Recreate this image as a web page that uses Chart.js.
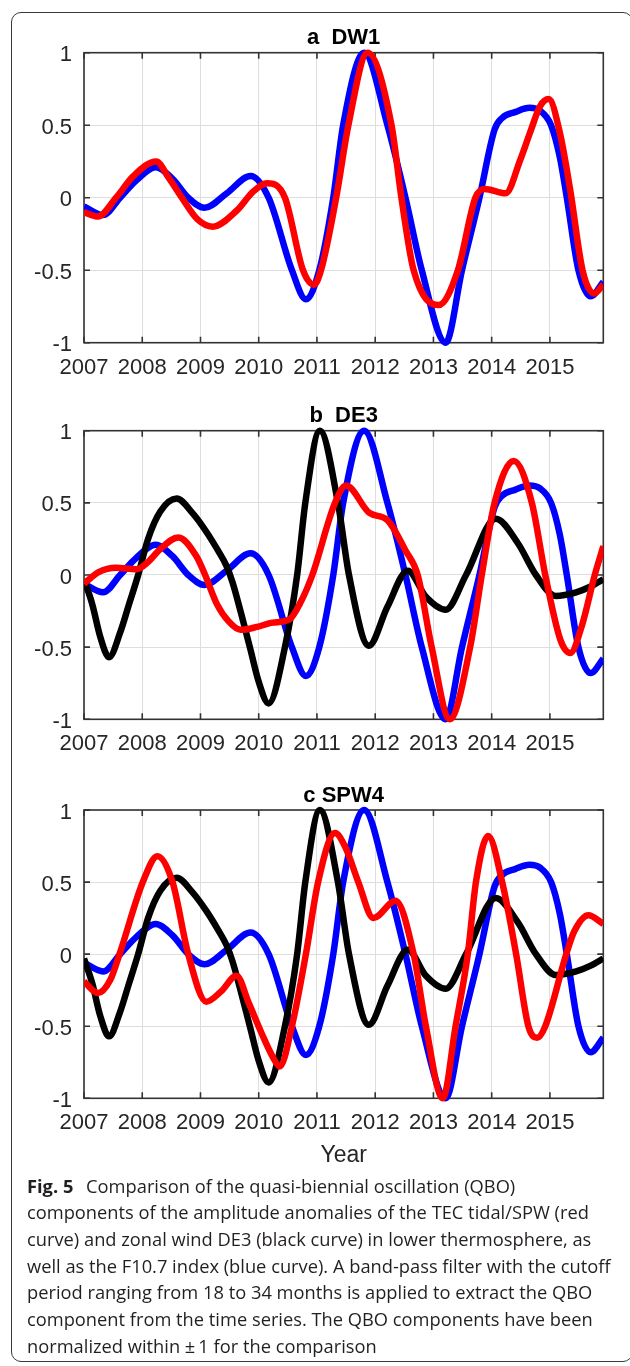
<!DOCTYPE html>
<html>
<head>
<meta charset="utf-8">
<title>QBO components of TEC tidal/SPW amplitudes, DE3 zonal wind and F10.7</title>
<script src="https://cdn.jsdelivr.net/npm/chart.js"></script>
<style>
  html, body { margin: 0; padding: 0; background: #ffffff; }
  body { width: 630px; height: 1366px; position: relative; overflow: hidden; }
  .frame {
    position: absolute; left: 11px; top: 12px; width: 622px; height: 1350px;
    border: 1.2px solid #3a3a3a; border-radius: 10px; box-sizing: border-box;
  }
  canvas { position: absolute; left: 0; }
  #caption {
    position: absolute; left: 27px; top: 1172.6px;
    font-family: "Open Sans", "Noto Sans", sans-serif; font-size: 18.3px;
    line-height: 26.65px; color: #231f20; white-space: nowrap;
  }
  #caption b { font-weight: 700; margin-right: 8px; }
</style>
</head>
<body>
<div class="frame"></div>
<canvas id="panelA" width="630" height="383" style="top:0px"></canvas>
<canvas id="panelB" width="630" height="381" style="top:378px"></canvas>
<canvas id="panelC" width="630" height="423" style="top:757px"></canvas>
<div id="caption"><b>Fig. 5</b> Comparison of the quasi-biennial oscillation (QBO)<br>components of the amplitude anomalies of the TEC tidal/SPW (red<br>curve) and zonal wind DE3 (black curve) in lower thermosphere, as<br>well as the F10.7 index (blue curve). A band-pass filter with the cutoff<br>period ranging from 18 to 34 months is applied to extract the QBO<br>component from the time series. The QBO components have been<br>normalized within ±&#8201;1 for the comparison</div>

<script>
// Axis ticks and labels
const yearTicks = [2007, 2008, 2009, 2010, 2011, 2012, 2013, 2014, 2015];
const yearLabels = ['2007', '2008', '2009', '2010', '2011', '2012', '2013', '2014', '2015'];
const valueTicks = [-1, -0.5, 0, 0.5, 1];
const valueLabels = ['-1', '-0.5', '0', '0.5', '1'];
const yearStart = 2007;
const yearEnd = 2015 + 11 / 12;   // monthly series, Jan 2007 - Dec 2015

// F10.7 index, QBO component (blue)
const f107Years = [2007.00, 2007.33, 2007.62, 2007.90, 2008.23, 2008.52, 2008.79, 2009.07, 2009.45, 2009.86,
  2010.17, 2010.57, 2010.81, 2011.04, 2011.28, 2011.45, 2011.81, 2012.21, 2012.52, 2012.80,
  2013.21, 2013.49, 2013.79, 2014.05, 2014.18, 2014.40, 2014.65, 2014.83, 2015.02, 2015.17, 2015.29,
  2015.49, 2015.70, 2015.917];
const f107Values = [-0.06, -0.12, 0.00, 0.12, 0.21, 0.13, 0.00, -0.07, 0.03, 0.15,
  0.00, -0.50, -0.70, -0.50, 0.00, 0.50, 1.00, 0.50, 0.00, -0.50,
  -1.00, -0.50, 0.00, 0.47, 0.55, 0.59, 0.62, 0.60, 0.50, 0.28, 0.00,
  -0.50, -0.68, -0.58];

// Zonal wind DE3 in the lower thermosphere, QBO component (black)
const windDE3Years = [2007.00, 2007.14, 2007.28, 2007.43, 2007.62, 2007.76, 2007.93, 2008.10, 2008.31, 2008.59,
  2008.86, 2009.10, 2009.30, 2009.45, 2009.55, 2009.70, 2009.86, 2010.00, 2010.17,
  2010.45, 2010.66, 2010.80, 2011.05, 2011.36, 2011.55, 2011.89, 2012.21, 2012.56, 2012.87,
  2013.21, 2013.56, 2014.07, 2014.45, 2014.76, 2015.10, 2015.45, 2015.70, 2015.917];
const windDE3Values = [-0.03, -0.20, -0.43, -0.57, -0.40, -0.22, 0.00, 0.25, 0.44, 0.53,
  0.43, 0.30, 0.17, 0.06, -0.05, -0.27, -0.52, -0.74, -0.89,
  -0.50, 0.00, 0.50, 1.00, 0.50, 0.00, -0.49, -0.22, 0.03, -0.15,
  -0.24, 0.00, 0.39, 0.22, 0.00, -0.145, -0.12, -0.08, -0.03];

// TEC DW1 amplitude anomaly, QBO component (red, panel a)
const tecDW1Years = [2007.00, 2007.24, 2007.55, 2007.85, 2008.24, 2008.45, 2008.68, 2008.95, 2009.21, 2009.62,
  2009.90, 2010.14, 2010.45, 2010.76, 2010.95, 2011.07, 2011.33, 2011.54, 2011.87, 2012.28,
  2012.45, 2012.66, 2013.09, 2013.42, 2013.72, 2013.88, 2014.24, 2014.49, 2014.66, 2014.83,
  2014.98, 2015.17, 2015.35, 2015.56, 2015.76, 2015.917];
const tecDW1Values = [-0.10, -0.13, 0.00, 0.15, 0.25, 0.14, 0.00, -0.15, -0.20, -0.09,
  0.04, 0.10, 0.00, -0.50, -0.60, -0.50, 0.00, 0.50, 1.00, 0.50,
  0.00, -0.50, -0.74, -0.50, 0.00, 0.06, 0.03, 0.26, 0.45, 0.63,
  0.68, 0.45, 0.05, -0.50, -0.66, -0.60];

// TEC DE3 amplitude anomaly, QBO component (red, panel b)
const tecDE3Years = [2007.00, 2007.25, 2007.55, 2007.90, 2008.10, 2008.31, 2008.62, 2008.93, 2009.08, 2009.28,
  2009.48, 2009.69, 2009.97, 2010.24, 2010.52, 2010.73, 2010.92, 2011.31, 2011.50, 2011.90,
  2012.21, 2012.52, 2012.73, 2012.97, 2013.28, 2013.63, 2013.83, 2014.05, 2014.38, 2014.69,
  2014.92, 2015.18, 2015.35, 2015.55, 2015.77, 2015.917];
const tecDE3Values = [-0.06, 0.02, 0.05, 0.04, 0.09, 0.18, 0.26, 0.13, 0.00, -0.20,
  -0.32, -0.38, -0.36, -0.33, -0.31, -0.18, 0.00, 0.50, 0.62, 0.43,
  0.38, 0.17, 0.00, -0.50, -1.00, -0.50, 0.00, 0.50, 0.79, 0.50,
  0.00, -0.45, -0.54, -0.35, 0.00, 0.20];

// TEC SPW4 amplitude anomaly, QBO component (red, panel c)
const tecSPW4Years = [2007.00, 2007.24, 2007.45, 2007.61, 2008.01, 2008.26, 2008.52, 2008.79, 2009.10, 2009.35,
  2009.62, 2009.83, 2010.04, 2010.25, 2010.36, 2010.57, 2010.81, 2011.02, 2011.31, 2011.49,
  2011.71, 2011.97, 2012.35, 2012.66, 2012.87, 2013.16, 2013.38, 2013.59, 2013.73, 2013.94,
  2014.18, 2014.42, 2014.63, 2014.78, 2014.92, 2015.28, 2015.42, 2015.66, 2015.917];
const tecSPW4Values = [-0.19, -0.27, -0.18, 0.00, 0.50, 0.68, 0.50, 0.00, -0.33, -0.26,
  -0.15, -0.34, -0.54, -0.72, -0.78, -0.50, 0.00, 0.50, 0.84, 0.74,
  0.50, 0.25, 0.37, 0.00, -0.50, -1.00, -0.50, 0.00, 0.50, 0.82,
  0.50, 0.00, -0.50, -0.58, -0.50, 0.00, 0.16, 0.27, 0.21];

const FONT = '"Liberation Sans", Arial, Helvetica, sans-serif';
const AXIS_COLOR = '#262626';
const GRID_COLOR = '#dedede';

function pairs(xs, ys) {
  return xs.map((x, i) => ({ x: x, y: ys[i] }));
}

function series(xs, ys, color) {
  return {
    data: pairs(xs, ys),
    borderColor: color,
    borderWidth: 6.5,
    pointRadius: 0,
    cubicInterpolationMode: 'monotone',
    borderJoinStyle: 'round',
    clip: { left: 0, right: 0, top: 4, bottom: 4 }
  };
}

// Boxed axes with inward tick marks on all four sides
const boxedAxes = {
  id: 'boxedAxes',
  beforeDatasetsDraw(chart) {
    const { ctx, chartArea: a, scales } = chart;
    const x = scales.x, y = scales.y;
    const len = 6;
    ctx.save();
    ctx.strokeStyle = '#333333';
    ctx.lineWidth = 1.6;
    ctx.beginPath();
    yearTicks.forEach(v => {
      const px = x.getPixelForValue(v);
      ctx.moveTo(px, a.bottom); ctx.lineTo(px, a.bottom - len);
      ctx.moveTo(px, a.top); ctx.lineTo(px, a.top + len);
    });
    valueTicks.forEach(v => {
      const py = y.getPixelForValue(v);
      ctx.moveTo(a.left, py); ctx.lineTo(a.left + len, py);
      ctx.moveTo(a.right, py); ctx.lineTo(a.right - len, py);
    });
    ctx.stroke();
    ctx.strokeRect(a.left, a.top, a.right - a.left, a.bottom - a.top);
    ctx.restore();
  }
};

const panels = [
  { id: 'panelA', title: 'a  DW1', canvasTop: 0, titleMid: 38.3, plotTop: 52.7, plotBottom: 342.7, canvasHeight: 383,
    datasets: [series(tecDW1Years, tecDW1Values, '#ff0000'), series(f107Years, f107Values, '#0000ff')] },
  { id: 'panelB', title: 'b  DE3', canvasTop: 378, titleMid: 416.3, plotTop: 430.7, plotBottom: 719.3, canvasHeight: 381,
    datasets: [series(tecDE3Years, tecDE3Values, '#ff0000'), series(windDE3Years, windDE3Values, '#000000'),
               series(f107Years, f107Values, '#0000ff')] },
  { id: 'panelC', title: 'c SPW4', canvasTop: 757, titleMid: 795.8, plotTop: 810, plotBottom: 1098.3, canvasHeight: 423,
    xTitle: 'Year',
    datasets: [series(tecSPW4Years, tecSPW4Values, '#ff0000'), series(windDE3Years, windDE3Values, '#000000'),
               series(f107Years, f107Values, '#0000ff')] }
];

const titleSize = 22;
const titleLine = titleSize * 1.2;
const tickSize = 22;

panels.forEach(p => {
  const padTop = p.titleMid - p.canvasTop - titleLine / 2;
  const padBottom = p.plotTop - p.canvasTop - padTop - titleLine;
  const xAxisHeight = p.canvasTop + p.canvasHeight - p.plotBottom;

  new Chart(document.getElementById(p.id), {
    type: 'line',
    data: { datasets: p.datasets },
    options: {
      responsive: false,
      animation: false,
      devicePixelRatio: 1,
      layout: { padding: { left: 0, right: 26.7, top: 0, bottom: 0 } },
      plugins: {
        legend: { display: false },
        tooltip: { enabled: false },
        title: {
          display: true,
          fullSize: false,
          text: p.title,
          color: '#000000',
          font: { family: FONT, size: titleSize, weight: 'bold', lineHeight: 1.2 },
          padding: { top: padTop, bottom: padBottom }
        }
      },
      scales: {
        x: {
          type: 'linear',
          min: yearStart,
          max: yearEnd,
          afterBuildTicks: s => { s.ticks = yearTicks.map(v => ({ value: v })); },
          afterFit: s => { s.height = xAxisHeight; },
          border: { display: false },
          grid: { color: GRID_COLOR, lineWidth: 1, drawTicks: false },
          ticks: {
            autoSkip: false, maxRotation: 0, padding: 11.6,
            color: AXIS_COLOR,
            font: { family: FONT, size: tickSize, lineHeight: 1.2 },
            callback: (v, i) => yearLabels[i]
          },
          title: p.xTitle ? {
            display: true, text: p.xTitle, color: AXIS_COLOR,
            font: { family: FONT, size: 23, lineHeight: 1.2 },
            padding: { top: 0, bottom: 10.7 }
          } : { display: false }
        },
        y: {
          type: 'linear',
          min: -1,
          max: 1,
          afterBuildTicks: s => { s.ticks = valueTicks.map(v => ({ value: v })); },
          afterFit: s => { s.width = 84; },
          border: { display: false },
          grid: { color: GRID_COLOR, lineWidth: 1, drawTicks: false },
          ticks: {
            padding: 12, labelOffset: 2.5,
            color: AXIS_COLOR,
            font: { family: FONT, size: tickSize, lineHeight: 1.2 },
            callback: (v, i) => valueLabels[i]
          }
        }
      }
    },
    plugins: [boxedAxes]
  });
});
</script>
</body>
</html>
